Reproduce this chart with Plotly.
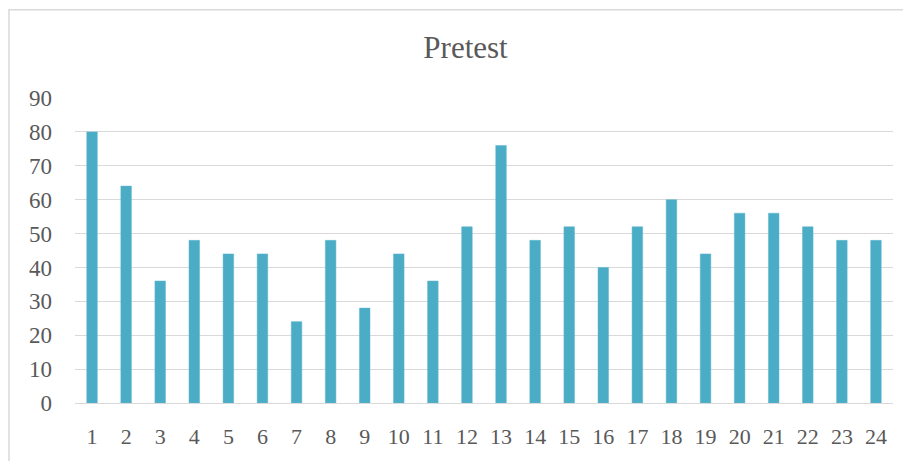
import plotly.graph_objects as go

categories = [str(i) for i in range(1, 25)]
values = [80, 64, 36, 48, 44, 44, 24, 48, 28, 44, 36, 52, 76, 48, 52, 40, 52, 60, 44, 56, 56, 52, 48, 48]
y_ticks = [0, 10, 20, 30, 40, 50, 60, 70, 80, 90]

# the page places the figure 8px from the top-left corner
W, H = 903, 453
L, R, T, B = 67, 18, 90, 55

fig = go.Figure(go.Bar(
    x=categories, y=values,
    marker=dict(color="#4BACC6", line=dict(color="#5DB6CE", width=0.5)),
    width=0.31,
))

TEXT = "#595959"
fig.update_layout(
    width=W, height=H,
    margin=dict(l=L, r=R, t=T, b=B),
    paper_bgcolor="white", plot_bgcolor="white",
    title=dict(text="Pretest", x=0.5 * (911 + 20) / W - 8 / W, xref="container", xanchor="center",
               y=1 - 39 / H, yref="container", yanchor="middle",
               font=dict(family="Liberation Serif", size=31, color=TEXT)),
    showlegend=False,
    font=dict(family="Liberation Serif", color=TEXT),
    xaxis=dict(type="category", showgrid=False, showline=True, linecolor="#D9D9D9",
               linewidth=1, ticks="", tickfont=dict(size=22, color=TEXT),
               ticklabelstandoff=14),
    yaxis=dict(range=[0, 90], tickvals=y_ticks, showgrid=True, gridcolor="#D9D9D9",
               gridwidth=1, zeroline=False, showline=False, ticks="",
               tickfont=dict(size=23, color=TEXT), ticklabelstandoff=22),
)

pw, ph = W - L - R, H - T - B
fig.add_shape(type="rect", xref="paper", yref="paper",
              x0=(1 - L) / pw, x1=(W + 5 - L) / pw,
              y0=(H - B - (H + 5)) / ph, y1=(H - B - 1) / ph,
              line=dict(color="#D9D9D9", width=1.5), fillcolor="rgba(0,0,0,0)", layer="below")

fig.write_html("out.html")
